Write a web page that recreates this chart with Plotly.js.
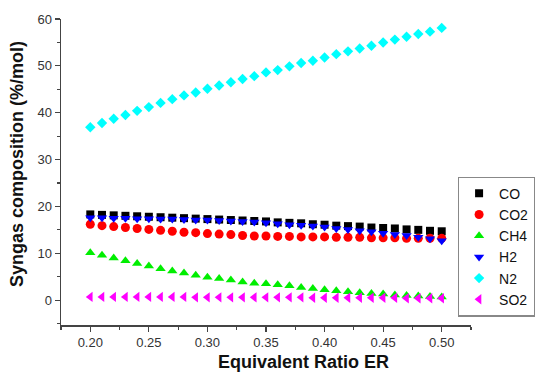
<!DOCTYPE html>
<html>
<head>
<meta charset="utf-8">
<script src="https://cdn.plot.ly/plotly-3.0.1.min.js"></script>
<style>html,body{margin:0;padding:0;background:#fff;}#chart{width:550px;height:378px;}</style>
</head>
<body>
<div id="chart"></div>
<script>
const ER = [0.20,0.21,0.22,0.23,0.24,0.25,0.26,0.27,0.28,0.29,0.30,0.31,0.32,0.33,0.34,0.35,0.36,0.37,0.38,0.39,0.40,0.41,0.42,0.43,0.44,0.45,0.46,0.47,0.48,0.49,0.50];
const CO  = [18.3,18.2,18.1,18.0,17.9,17.8,17.7,17.6,17.5,17.4,17.3,17.2,17.1,17.0,16.9,16.8,16.6,16.5,16.4,16.2,16.1,15.9,15.8,15.7,15.5,15.4,15.3,15.1,15.0,14.8,14.7];
const CO2 = [16.2,15.9,15.7,15.5,15.3,15.1,14.9,14.7,14.5,14.4,14.2,14.1,14.0,13.8,13.7,13.7,13.6,13.6,13.5,13.5,13.5,13.4,13.4,13.4,13.3,13.3,13.3,13.2,13.2,13.2,13.2];
const CH4 = [10.1,9.6,9.0,8.4,7.8,7.3,6.7,6.2,5.8,5.3,4.9,4.6,4.3,3.9,3.6,3.5,3.3,3.1,2.7,2.5,2.2,2.0,1.8,1.6,1.4,1.3,1.1,1.0,0.9,0.8,0.7];
const H2  = [17.6,17.6,17.5,17.5,17.4,17.4,17.3,17.3,17.2,17.1,17.1,17.0,16.9,16.8,16.7,16.5,16.3,16.1,16.0,15.8,15.6,15.3,15.1,14.8,14.6,14.3,14.0,13.8,13.4,13.1,12.7];
const N2  = [36.9,37.8,38.7,39.5,40.4,41.2,42.1,42.9,43.7,44.3,45.1,45.8,46.5,47.2,47.8,48.6,49.1,49.9,50.6,51.1,51.8,52.5,53.1,53.7,54.3,55.0,55.6,56.2,56.8,57.3,58.1];
const SO2 = [0.7,0.7,0.7,0.7,0.7,0.7,0.7,0.7,0.7,0.6,0.6,0.6,0.6,0.6,0.6,0.6,0.6,0.6,0.6,0.5,0.5,0.5,0.5,0.5,0.5,0.5,0.5,0.4,0.4,0.4,0.4];

const names = ['CO','CO2','CH4','H2','N2','SO2'];
const values = [CO, CO2, CH4, H2, N2, SO2];
const colors = ['#000000','#ff0000','#00ee00','#0000ff','#00ffff','#ff00ff'];
const symbols = ['square','circle','triangle-up','triangle-down','diamond','triangle-left'];
const sizes = [8, 9, 9, 9, 8, 9];

const traces = names.map((n, i) => ({
  x: ER, y: values[i], name: n, type: 'scatter', mode: 'markers',
  marker: {color: colors[i], symbol: symbols[i], size: sizes[i], line: {width: 0}}
}));

const axisCommon = {
  showline: true, linecolor: '#444', linewidth: 1.5, showgrid: false, zeroline: false,
  ticks: 'outside', ticklen: 5, tickwidth: 1.2, tickcolor: '#444',
  tickfont: {family: 'Arial, Liberation Sans, sans-serif', size: 13, color: '#333'},
  mirror: false
};

const layout = {
  width: 550, height: 378,
  margin: {l: 61, r: 79, t: 19, b: 53},
  paper_bgcolor: '#fff', plot_bgcolor: '#fff',
  showlegend: true,
  legend: {
    x: 0.968, y: (325 - 246.5) / 306, xanchor: 'left', yanchor: 'middle',
    bgcolor: '#fff', bordercolor: '#888', borderwidth: 1.2,
    font: {family: 'Arial, Liberation Sans, sans-serif', size: 14, color: '#111'}
  },
  xaxis: Object.assign({}, axisCommon, {
    range: [0.175, 0.525], tick0: 0.2, dtick: 0.05, tickformat: '.2f',
    minor: {ticks: 'outside', ticklen: 3, dtick: 0.025, tick0: 0.175, tickcolor: '#444', tickwidth: 1.2}
  }),
  yaxis: Object.assign({}, axisCommon, {
    range: [-5.3, 60], tick0: 0, dtick: 10,
    minor: {ticks: 'outside', ticklen: 3, dtick: 5, tick0: 0, tickcolor: '#444', tickwidth: 1.2}
  }),
  annotations: [
    {text: '<b>Equivalent Ratio ER</b>', xref: 'paper', yref: 'paper',
     x: (303 - 61) / 410, y: (325 - 362) / 306, xanchor: 'center', yanchor: 'middle',
     showarrow: false, font: {family: 'Arial, Liberation Sans, sans-serif', size: 18, color: '#111'}},
    {text: '<b>Syngas composition (%/mol)</b>', xref: 'paper', yref: 'paper',
     x: (17 - 61) / 410, y: (325 - 164) / 306, xanchor: 'center', yanchor: 'middle', textangle: -90,
     showarrow: false, font: {family: 'Arial, Liberation Sans, sans-serif', size: 18, color: '#111'}}
  ]
};

Plotly.newPlot('chart', traces, layout, {displayModeBar: false, staticPlot: true});
</script>
</body>
</html>
